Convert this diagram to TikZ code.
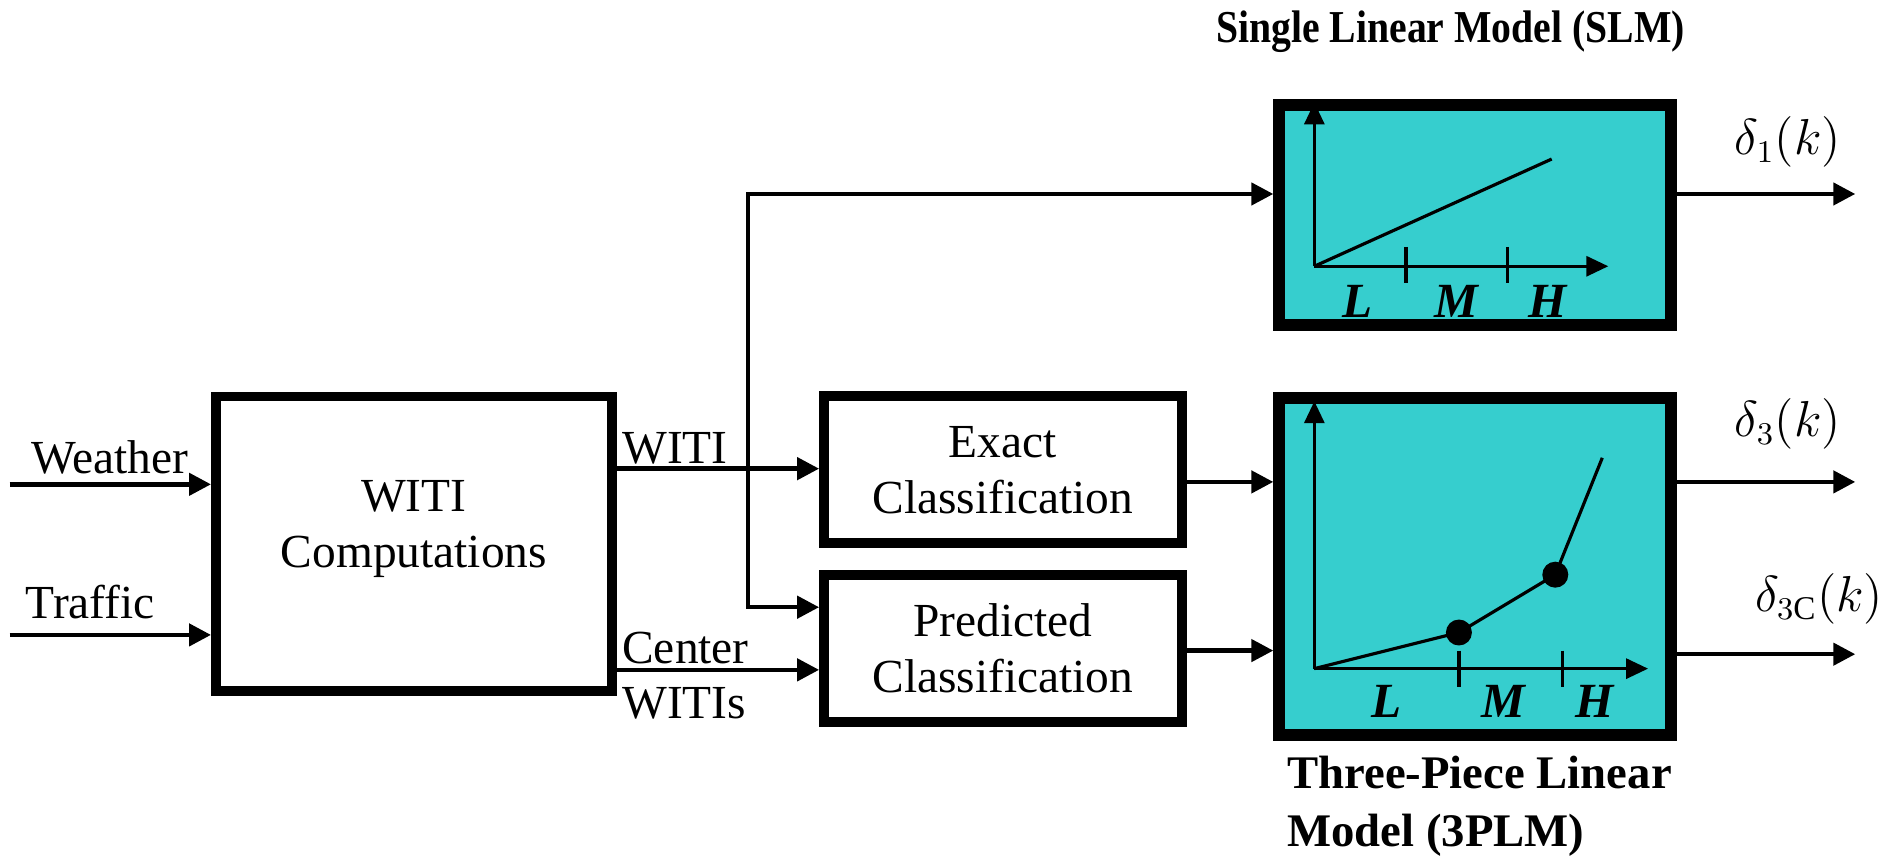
\documentclass[tikz,border=0pt]{standalone}
\usepackage{fontspec}
\setmainfont{Liberation Serif}
\usetikzlibrary{arrows.meta}
\definecolor{modelcyan}{RGB}{54,206,206}

\tikzset{
  blk/.style={draw=black,line width=2.8pt,fill=white,inner sep=0pt,align=center,
    font=\fontsize{13.5}{16}\selectfont},
  mdl/.style={draw=black,line width=3.4pt,fill=modelcyan,inner sep=0pt},
  sig/.style={line width=1.3pt,-{Triangle[length=0.22cm,width=0.22cm]}},
  ax/.style={line width=0.9pt,-{Triangle[length=0.22cm,width=0.2cm]}},
  lbl/.style={font=\fontsize{13.5}{16}\selectfont,inner sep=0pt},
  lmh/.style={font=\fontsize{14}{16}\selectfont\bfseries\itshape,inner sep=0pt}
}

\begin{document}
\begin{tikzpicture}[x=0.012047cm,y=-0.012047cm]
\useasboundingbox (0,0) rectangle (1568,713);

%---------------------------------------------------
%blocks
\node[blk,minimum width=3.96cm,minimum height=2.95cm] (witi) at (343.5,451.5) {};
\node[lbl,align=center] (wititxt) at (343.5,439) {WITI\\Computations};
\node[blk,minimum width=3.58cm,minimum height=1.47cm] (exact) at (832.5,390) {Exact\\Classification};
\node[blk,minimum width=3.58cm,minimum height=1.47cm] (pred) at (832.5,538) {Predicted\\Classification};
\node[mdl,minimum width=3.92cm,minimum height=2.20cm] (slm) at (1224.5,178.5) {};
\node[mdl,minimum width=3.92cm,minimum height=3.37cm] (plm) at (1224.5,470) {};

\node[font=\fontsize{11.3}{14}\selectfont\bfseries,inner sep=0pt] (slmt) at (1204,26)
  {\scalebox{1}[1.15]{Single Linear Model (SLM)}};
\node[font=\fontsize{13.3}{16.5}\selectfont\bfseries,inner sep=0pt,align=left,anchor=north west]
  (plmt) at (1068,627) {Three-Piece Linear\\Model (3PLM)};

%---------------------------------------------------
%inputs
\coordinate (win) at (8,402);
\coordinate (tin) at (8,527);
\draw[sig] (win) -- (win -| witi.west);
\draw[sig] (tin) -- (tin -| witi.west);
\node[lbl] (wlab) at (91,380) {Weather};
\node[lbl] (tlab) at (75,500) {Traffic};

%witi outputs
\coordinate (split) at (621,389);
\coordinate (top) at (621,161);
\coordinate (bot) at (621,504);
\coordinate (cw) at (512,556);
\draw[sig] (witi.east |- split) -- (split -| exact.west);
\draw[sig] (split) -- (top) -- (top -| slm.west);
\draw[sig] (split) -- (bot) -- (bot -| pred.west);
\draw[sig] (witi.east |- cw) -- (cw -| pred.west);
\node[lbl,anchor=west] (wl) at (516,372) {WITI};
\node[lbl,anchor=west] (cl) at (516,538) {Center};
\node[lbl,anchor=west] (csl) at (516,584) {WITIs};

%classification to 3PLM
\coordinate (ea) at (985,400);
\coordinate (pa) at (985,540);
\draw[sig] (exact.east |- ea) -- (ea -| plm.west);
\draw[sig] (pred.east |- pa) -- (pa -| plm.west);

%outputs
\coordinate (o1) at (1540,161);
\coordinate (o3) at (1540,400);
\coordinate (o3c) at (1540,543);
\draw[sig] (o1 -| slm.east) -- (o1);
\draw[sig] (o3 -| plm.east) -- (o3);
\draw[sig] (o3c -| plm.east) -- (o3c);
\node[lbl] (d1) at (1484,118) {$\delta_1(k)$};
\node[lbl] (d3) at (1484,352) {$\delta_3(k)$};
\node[lbl] (d3c) at (1510,497) {$\delta_{3\mathrm{C}}(k)$};

%---------------------------------------------------
%SLM plot
\draw[ax] (1091,221) -- (1091,85);
\draw[ax] (1091,221) -- (1335,221);
\draw[line width=0.9pt] (1167,205) -- (1167,235);
\draw[line width=0.9pt] (1251,205) -- (1251,235);
\draw[line width=0.9pt] (1091,221) -- (1288,132);
\node[lmh] (l1) at (1127,250) {L};
\node[lmh] (m1) at (1209,250) {M};
\node[lmh] (h1) at (1285,250) {H};

%3PLM plot
\draw[ax] (1091,555) -- (1091,333);
\draw[ax] (1091,555) -- (1368,555);
\draw[line width=0.9pt] (1211,540) -- (1211,570);
\draw[line width=0.9pt] (1297,540) -- (1297,570);
\draw[line width=0.9pt] (1091,555) -- (1211,525) -- (1291,477) -- (1330,380);
\fill (1211,525) circle (0.13cm);
\fill (1291,477) circle (0.13cm);
\node[lmh] (l3) at (1151,582) {L};
\node[lmh] (m3) at (1248,582) {M};
\node[lmh] (h3) at (1324,582) {H};

\end{tikzpicture}
\end{document}
